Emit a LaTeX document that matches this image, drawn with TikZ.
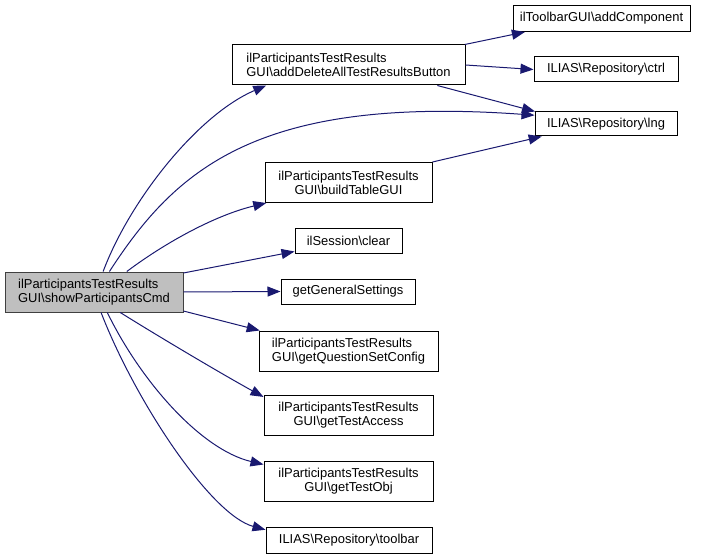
\documentclass[tikz,border=0pt]{standalone}
\usepackage{fontspec}
\setmainfont{Liberation Sans}
\usetikzlibrary{arrows.meta}
\definecolor{edgeblue}{HTML}{191970}
\definecolor{rootfill}{HTML}{BFBFBF}
\definecolor{rootdraw}{HTML}{404040}
\begin{document}
\begin{tikzpicture}[x=0.75pt,y=-0.75pt,
    func node/.style={rectangle,draw=black,fill=white,line width=0.75pt,font=\fontsize{9.7}{10.5}\selectfont,inner sep=0pt,align=center,minimum height=25*0.75pt},
    two line/.style={minimum height=40*0.75pt},
    root node/.style={func node,two line,fill=rootfill,draw=rootdraw,align=left},
    call/.style={draw=edgeblue,line width=0.75pt,-{Triangle[length=9.75pt,width=7.5pt]}}]
        \useasboundingbox (0,0) rectangle (705,559);
        \node[root node,minimum width=178*0.75pt] at (94,292) (show) {ilParticipantsTestResults\\GUI\textbackslash{}showParticipantsCmd};
        \node[func node,two line,align=left,minimum width=233*0.75pt] at (348.5,65) (adddel) {ilParticipantsTestResults\\GUI\textbackslash{}addDeleteAllTestResultsButton};
        \node[func node,minimum width=177*0.75pt,minimum height=26*0.75pt] at (601.5,18.5) (addcomp) {ilToolbarGUI\textbackslash{}addComponent};
        \node[func node,minimum width=144*0.75pt] at (606,69.5) (ctrl) {ILIAS\textbackslash{}Repository\textbackslash{}ctrl};
        \node[func node,minimum width=142*0.75pt,minimum height=24*0.75pt] at (606,124) (lng) {ILIAS\textbackslash{}Repository\textbackslash{}lng};
        \node[func node,two line,minimum width=167*0.75pt] at (348.5,182.5) (buildtab) {ilParticipantsTestResults\\GUI\textbackslash{}buildTableGUI};
        \node[func node,minimum width=107*0.75pt,minimum height=24*0.75pt] at (348.5,241) (clear) {ilSession\textbackslash{}clear};
        \node[func node,minimum width=134*0.75pt] at (348,291.5) (gensettings) {getGeneralSettings};
        \node[func node,two line,align=left,minimum width=179*0.75pt] at (348.5,351) (qsconfig) {ilParticipantsTestResults\\GUI\textbackslash{}getQuestionSetConfig};
        \node[func node,two line,minimum width=169*0.75pt] at (348.5,415) (testaccess) {ilParticipantsTestResults\\GUI\textbackslash{}getTestAccess};
        \node[func node,two line,minimum width=169*0.75pt] at (348.5,481) (testobj) {ilParticipantsTestResults\\GUI\textbackslash{}getTestObj};
        \node[func node,minimum width=166*0.75pt,minimum height=26*0.75pt] at (349,540) (toolbar) {ILIAS\textbackslash{}Repository\textbackslash{}toolbar};

        \draw[call] (show.66) .. controls +(27,-72) and +(-68,29) .. (adddel.194);
        \draw[call] (show.53) .. controls +(66,-102) and +(-277,-20) .. (lng.173);
        \draw[call] (show.32) .. controls +(40,-30) and +(-50,12) .. (buildtab.194);
        \draw[call] (show.12) -- (clear.191);
        \draw[call] (show.east) -- (gensettings.west);
        \draw[call] (show.-12) -- (qsconfig.167);
        \draw[call] (show.-38) .. controls +(40,25) and +(-40,-22) .. (testaccess.168);
        \draw[call] (show.-57) .. controls +(33,68) and +(-63,-15) .. (testobj.169);
        \draw[call] (show.-71) .. controls +(34,88) and +(-55,-15) .. (toolbar.173);
        \draw[call] (adddel.10) -- (addcomp.190);
        \draw[call] (adddel.east) -- (ctrl.west);
        \draw[call] (adddel.-13) -- (lng.170);
        \draw[call] (buildtab.north east) -- (lng.191);
\end{tikzpicture}
\end{document}
